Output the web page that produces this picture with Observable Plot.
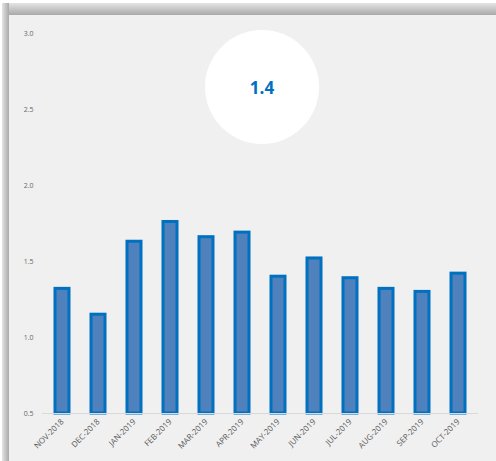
<!DOCTYPE html>
<html>
<head>
<meta charset="utf-8">
<script src="https://cdn.jsdelivr.net/npm/d3@7"></script>
<script src="https://cdn.jsdelivr.net/npm/@observablehq/plot@0.6"></script>
<style>
  html, body { margin: 0; padding: 0; background: #ffffff; }
  #page { position: relative; width: 496px; height: 461px; overflow: hidden; background: #ffffff; }
  #frameTop { position: absolute; left: 2px; top: 3px; width: 494px; height: 12px;
    background: linear-gradient(to bottom, #e4e4e4, #a9a9a9); }
  #frameLeft { position: absolute; left: 2px; top: 3px; width: 7px; height: 458px;
    background: linear-gradient(to right, #e4e4e4, #a9a9a9); }
  #panel { position: absolute; left: 9px; top: 15px; width: 487px; height: 446px; background: #f0f0f0; }
  #kpi { position: absolute; left: 205px; top: 30px; width: 114px; height: 114px; border-radius: 50%;
    background: #ffffff; display: flex; align-items: center; justify-content: center;
    font-family: "Open Sans", sans-serif; font-weight: 700; font-size: 17px; color: #0070c0; }
  #chart { position: absolute; left: 0; top: 0; }
</style>
</head>
<body>
<div id="page">
  <div id="frameTop"></div>
  <div id="frameLeft"></div>
  <div id="panel"></div>
  <div id="chart"></div>
  <div id="kpi"></div>
</div>
<script>
const months = ["NOV-2018","DEC-2018","JAN-2019","FEB-2019","MAR-2019","APR-2019","MAY-2019","JUN-2019","JUL-2019","AUG-2019","SEP-2019","OCT-2019"];
const values = [1.32, 1.15, 1.63, 1.76, 1.66, 1.69, 1.40, 1.52, 1.39, 1.32, 1.30, 1.42];
const yTicks = [0.5, 1.0, 1.5, 2.0, 2.5, 3.0];
const yMin = 0.5;
const yMax = 3.0;
const kpiValue = "1.4";

const data = months.map((m, i) => ({month: m, value: values[i]}));

const chart = Plot.plot({
  width: 496,
  height: 461,
  marginLeft: 42,
  marginRight: 18,
  marginTop: 33,
  marginBottom: 48,
  style: {background: "transparent", fontFamily: "'Open Sans', sans-serif", fontSize: "7px", color: "#666666"},
  x: {domain: months, paddingInner: 0.6, paddingOuter: 0.3, label: null},
  y: {domain: [yMin, yMax], label: null},
  marks: [
    Plot.barY(data, {x: "month", y1: () => yMin, y2: "value", fill: "#4f81bd", stroke: "#0070c0", strokeWidth: 3}),
    Plot.ruleY([yMin], {stroke: "#d9d9d9", strokeWidth: 1}),
    Plot.axisY({ticks: yTicks, tickFormat: d => d.toFixed(1), tickSize: 0, tickPadding: 9, textAnchor: "end", fill: "#666666"}),
    Plot.axisX({tickSize: 0, tickPadding: 7, tickRotate: -45, fontSize: 8, fill: "#595959"})
  ]
});
document.getElementById("chart").appendChild(chart);
document.getElementById("kpi").textContent = kpiValue;
</script>
</body>
</html>
